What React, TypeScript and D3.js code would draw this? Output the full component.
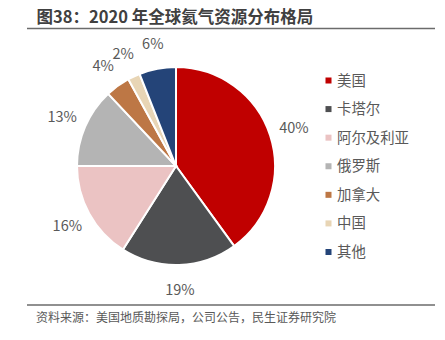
import React from "react";
import * as d3 from "d3";

const categories = ["美国", "卡塔尔", "阿尔及利亚", "俄罗斯", "加拿大", "中国", "其他"];
const values = [40, 19, 16, 13, 4, 2, 6];
const colors = ["#C00000", "#4E4F51", "#EBC3C3", "#B4B4B4", "#BD7745", "#E8D5B5", "#244478"];
const title = "图38：2020 年全球氦气资源分布格局";
const source = "资料来源：美国地质勘探局，公司公告，民生证券研究院";

const W = 445;
const H = 340;
const FONT = "'Noto Sans CJK SC', 'Noto Sans', sans-serif";

export default function App() {
  const cx = 176;
  const cy = 166;
  const r = 99;
  const pie = d3.pie<number>().sort(null).value((d) => d);
  const arcs = pie(values);
  const arcGen = d3.arc<d3.PieArcDatum<number>>().innerRadius(0).outerRadius(r);
  const labelArc = d3.arc<d3.PieArcDatum<number>>().innerRadius(124).outerRadius(124);
  const legendY = d3.scalePoint<string>().domain(categories).range([80.5, 252]);

  return (
    <div style={{ position: "absolute", left: 0, top: 0, width: W, height: H }}>
      <svg width={W} height={H} style={{ display: "block", fontFamily: FONT }}>
        <rect width={W} height={H} fill="#fff" />
        <text x={36.5} y={23} fontSize={16.5} fontWeight="bold" fill="#404040">{title}</text>
        <line x1={27} x2={435} y1={28.5} y2={28.5} stroke="#6b6b6b" strokeWidth={1.5} />
        <g transform={`translate(${cx},${cy})`}>
          {arcs.map((a, i) => (
            <path key={i} d={arcGen(a) || ""} fill={colors[i]} stroke="#fff" strokeWidth={2} />
          ))}
          {arcs.map((a, i) => {
            const [lx, ly] = labelArc.centroid(a);
            return (
              <text key={i} x={lx} y={ly} dy="0.35em" textAnchor="middle" fontSize={14.5} fill="#595959">
                {values[i]}%
              </text>
            );
          })}
        </g>
        {categories.map((c, i) => (
          <g key={c} transform={`translate(325.5,${legendY(c)})`}>
            <rect x={0} y={-3} width={6} height={6} fill={colors[i]} />
            <text x={11.5} y={0} dy="0.35em" fontSize={14.4} fill="#595959">{c}</text>
          </g>
        ))}
        <line x1={27} x2={435} y1={305} y2={305} stroke="#6b6b6b" strokeWidth={1.5} />
        <text x={36} y={322} fontSize={12} fill="#595959">{source}</text>
      </svg>
    </div>
  );
}
